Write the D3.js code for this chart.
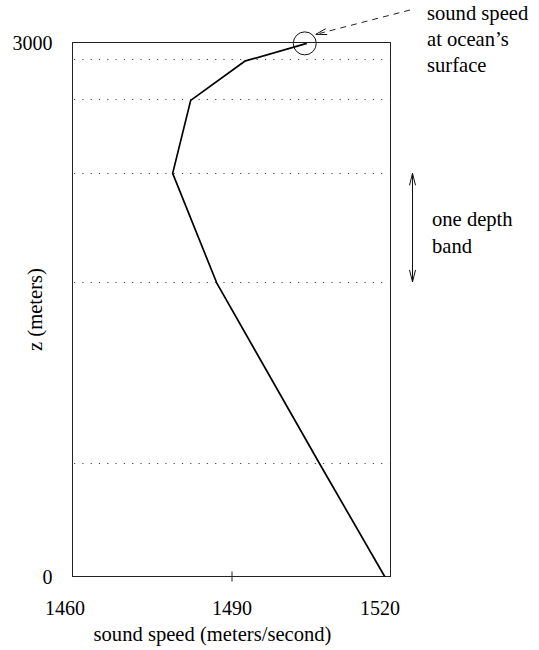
<!DOCTYPE html>
<html>
<head>
<meta charset="utf-8">
<script src="https://cdn.jsdelivr.net/npm/d3@7"></script>
<style>
  body { margin: 0; background: #fff; }
  svg { display: block; font-family: "Liberation Serif", "DejaVu Serif", serif; }
  .frame { fill: none; stroke: #222; stroke-width: 1; }
  .band { stroke: #444; stroke-width: 1.1; stroke-dasharray: 1.2 7.1; }
  .profile { fill: none; stroke: #000; stroke-width: 1.7; stroke-linejoin: round; }
  .note { font-size: 20.6px; fill: #000; font-family: "Liberation Serif", serif; }
</style>
</head>
<body>
<div class="visualization"></div>
<script>
// sound speed profile
const speedValues = [1504.2, 1492.5, 1482.3, 1478.9, 1487.2, 1506.6, 1518.9];
const depthValues = [2995, 2895, 2675, 2265, 1650, 635, 0];
const bandDepths = [2910, 2685, 2265, 1655, 635];
const xTicks = [1460, 1490, 1520];
const yTicks = [0, 3000];
const surfaceNote = ["sound speed", "at ocean\u2019s", "surface"];
const bandNote = ["one depth", "band"];

const width = 539, height = 650;
const margin = { top: 42.5, right: 148.5, bottom: 73.5, left: 72.5 };
const serif = "\"Liberation Serif\", serif";

const svg = d3.select(".visualization")
  .append("svg")
  .attr("width", width)
  .attr("height", height)
  .attr("viewBox", `0 0 ${width} ${height}`);

const xScale = d3.scaleLinear()
  .domain([1460, 1520])
  .range([margin.left, width - margin.right]);

const yScale = d3.scaleLinear()
  .domain([0, 3000])
  .range([height - margin.bottom, margin.top]);

// frame
svg.append("rect")
  .attr("class", "frame")
  .attr("x", xScale(1460))
  .attr("y", yScale(3000))
  .attr("width", xScale(1520) - xScale(1460))
  .attr("height", yScale(0) - yScale(3000));

// dotted depth band boundaries
svg.append("g")
  .selectAll("line")
  .data(bandDepths)
  .enter().append("line")
  .attr("class", "band")
  .attr("x1", xScale(1460) + 1.5)
  .attr("x2", xScale(1520) - 1)
  .attr("y1", d => Math.round(yScale(d)) + 0.5)
  .attr("y2", d => Math.round(yScale(d)) + 0.5);

// x axis
const xAxis = d3.axisBottom(xScale)
  .tickValues(xTicks)
  .tickFormat(d3.format("d"))
  .tickSize(5);

const xAxisGroup = svg.append("g")
  .attr("class", "x-axis")
  .attr("transform", `translate(0, ${yScale(0)})`)
  .call(xAxis)
  .attr("font-family", serif)
  .attr("font-size", 20);

xAxisGroup.select(".domain").remove();
xAxisGroup.selectAll(".tick line")
  .attr("stroke", "#222")
  .attr("y1", -5)
  .attr("y2", 5)
  .style("display", d => (d === 1490 ? null : "none"));
xAxisGroup.selectAll(".tick text")
  .attr("y", 38)
  .attr("dy", 0)
  .attr("dx", d => (d === 1460 ? -8 : d === 1520 ? -11 : 0))
  .attr("fill", "#000");

// y axis
const yAxis = d3.axisLeft(yScale)
  .tickValues(yTicks)
  .tickFormat(d3.format("d"))
  .tickSize(0)
  .tickPadding(20);

const yAxisGroup = svg.append("g")
  .attr("class", "y-axis")
  .attr("transform", `translate(${xScale(1460)}, 0)`)
  .call(yAxis)
  .attr("font-family", serif)
  .attr("font-size", 20);

yAxisGroup.select(".domain").remove();
yAxisGroup.selectAll(".tick text")
  .attr("dy", "0.34em")
  .attr("fill", "#000");

// axis titles
svg.append("text")
  .attr("class", "note")
  .attr("text-anchor", "middle")
  .attr("x", (xScale(1460) + xScale(1520)) / 2 - 19)
  .attr("y", 641)
  .text("sound speed (meters/second)");

svg.append("text")
  .attr("class", "note")
  .attr("text-anchor", "middle")
  .attr("transform", `translate(42, ${(yScale(0) + yScale(3000)) / 2}) rotate(-90)`)
  .text("z (meters)");

// profile line
const line = d3.line()
  .x((d, i) => xScale(speedValues[i]))
  .y(d => yScale(d));

svg.append("path")
  .attr("class", "profile")
  .attr("d", line(depthValues));

// circle at the surface value
const cx = xScale(speedValues[0]) - 2;
const cy = yScale(depthValues[0]);
svg.append("circle")
  .attr("cx", cx)
  .attr("cy", cy)
  .attr("r", 11.5)
  .attr("fill", "none")
  .attr("stroke", "#111")
  .attr("stroke-width", 1);

// dashed pointer to the circle
const tip = [cx + 11, cy - 9];
const tail = [410, 10];
svg.append("line")
  .attr("x1", tail[0]).attr("y1", tail[1])
  .attr("x2", tip[0] + 4).attr("y2", tip[1] - 1)
  .attr("stroke", "#222")
  .attr("stroke-width", 1)
  .attr("stroke-dasharray", "6 5");

function arrowHead(g, from, to, len, half) {
  const dx = to[0] - from[0], dy = to[1] - from[1];
  const d = Math.hypot(dx, dy);
  const ux = dx / d, uy = dy / d;
  const bx = to[0] - ux * len, by = to[1] - uy * len;
  g.append("path")
    .attr("d", `M${bx - uy * half},${by + ux * half}L${to[0]},${to[1]}L${bx + uy * half},${by - ux * half}`)
    .attr("fill", "none")
    .attr("stroke", "#111")
    .attr("stroke-width", 1);
}

arrowHead(svg, tail, tip, 11, 3);

svg.append("g")
  .selectAll("text")
  .data(surfaceNote)
  .enter().append("text")
  .attr("class", "note")
  .attr("x", 427)
  .attr("y", (d, i) => 20 + i * 26)
  .text(d => d);

// double arrow marking one band
const ax = 412.5;
const bandTop = [ax, yScale(bandDepths[2])];
const bandBottom = [ax, yScale(bandDepths[3])];
svg.append("line")
  .attr("x1", ax).attr("x2", ax)
  .attr("y1", bandTop[1]).attr("y2", bandBottom[1])
  .attr("stroke", "#111")
  .attr("stroke-width", 1);
arrowHead(svg, bandBottom, bandTop, 12, 3);
arrowHead(svg, bandTop, bandBottom, 12, 3);

svg.append("g")
  .selectAll("text")
  .data(bandNote)
  .enter().append("text")
  .attr("class", "note")
  .attr("x", 432)
  .attr("y", (d, i) => 226 + i * 27)
  .text(d => d);
</script>
</body>
</html>
